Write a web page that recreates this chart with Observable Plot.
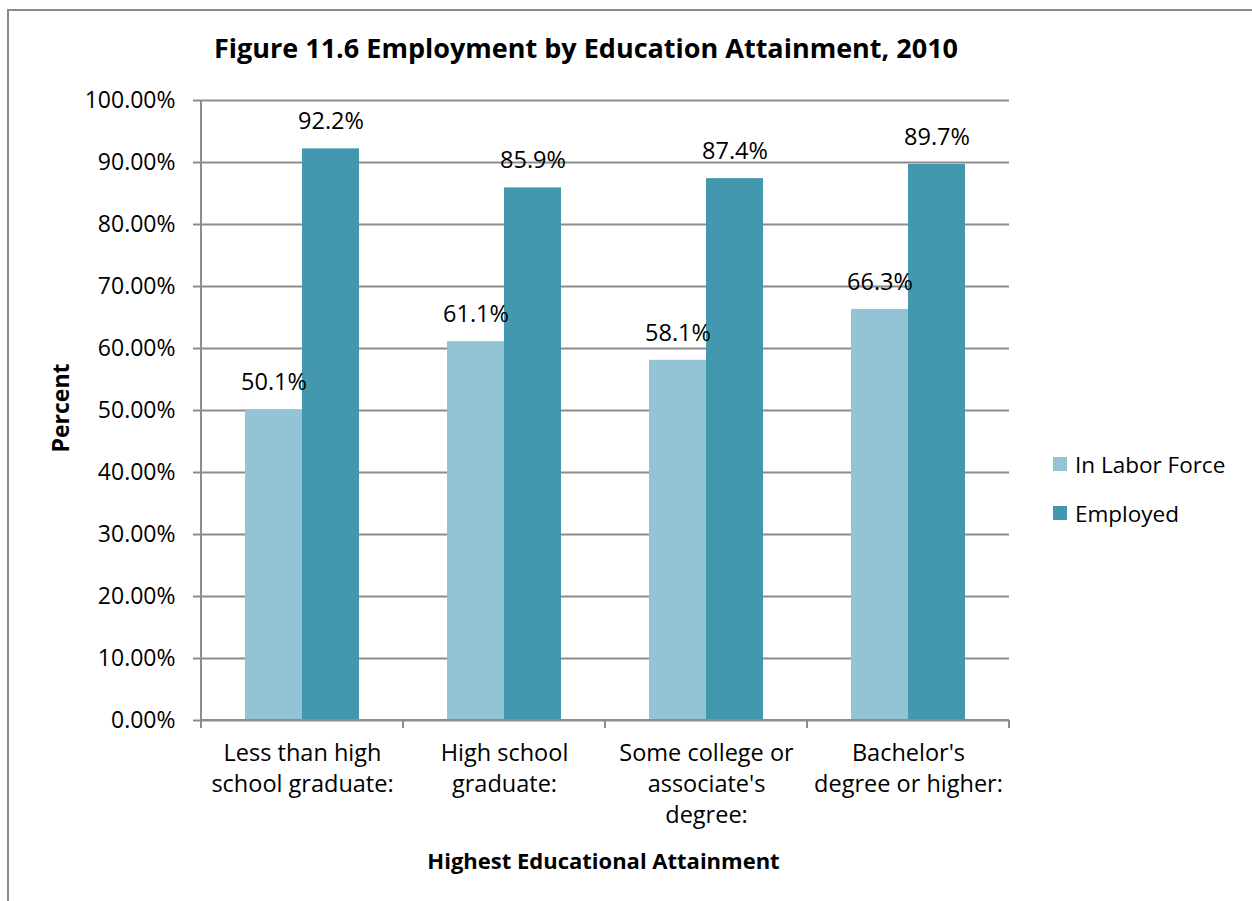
<!DOCTYPE html>
<html>
<head>
<meta charset="utf-8">
<script src="https://cdn.jsdelivr.net/npm/d3@7"></script>
<script src="https://cdn.jsdelivr.net/npm/@observablehq/plot@0.6"></script>
<style>
  html, body { margin: 0; padding: 0; background: #fff; overflow: hidden; }
  #wrap { position: relative; width: 1252px; height: 901px; overflow: hidden; font-family: "Open Sans", sans-serif; color: #000; }
  #border { position: absolute; left: 7px; top: 9px; right: -10px; bottom: -10px; border: 2px solid #8c8c8c; }
  #chart { position: absolute; left: 0; top: 0; }
  .title { position: absolute; left: 0; width: 1172px; top: 28px; text-align: center; font-weight: 700; font-size: 27px; line-height: 40px; }
  .xtitle { position: absolute; left: 0; width: 1207px; top: 844px; text-align: center; font-weight: 700; font-size: 22px; line-height: 32px; }
  .ytitle { position: absolute; left: 60px; top: 408px; transform: translate(-50%, -50%) rotate(-90deg); font-weight: 700; font-size: 23px; white-space: nowrap; }
  .legend { position: absolute; left: 1053px; top: 449px; font-size: 22.5px; }
  .legend .item { display: flex; align-items: center; height: 30px; margin-bottom: 19px; }
  .legend .sw { width: 14px; height: 14px; margin-right: 8px; }
</style>
</head>
<body>
<div id="wrap">
  <div id="border"></div>
  <div id="chart"></div>
  <div class="title">Figure 11.6 Employment by Education Attainment, 2010</div>
  <div class="ytitle">Percent</div>
  <div class="xtitle">Highest Educational Attainment</div>
  <div class="legend" id="legend"></div>
</div>
<script>
// ---- data ----
const categories = [
  "Less than high school graduate:",
  "High school graduate:",
  "Some college or associate's degree:",
  "Bachelor's degree or higher:"
];
const categoryLabels = [
  "Less than high\nschool graduate:",
  "High school\ngraduate:",
  "Some college or\nassociate's\ndegree:",
  "Bachelor's\ndegree or higher:"
];
const series = ["In Labor Force", "Employed"];
const inLaborForce = [50.1, 61.1, 58.1, 66.3];
const employed = [92.2, 85.9, 87.4, 89.7];
const yTicks = [0, 10, 20, 30, 40, 50, 60, 70, 80, 90, 100];
const colors = ["#93C3D4", "#4398AF"];

const rows = [];
categories.forEach((c, i) => {
  rows.push({category: c, series: series[0], value: inLaborForce[i]});
  rows.push({category: c, series: series[1], value: employed[i]});
});

const gridColor = "#8c8c8c";

const plot = Plot.plot({
  width: 1252,
  height: 901,
  marginLeft: 199,
  marginRight: 242,
  marginTop: 100,
  marginBottom: 181,
  style: {fontFamily: "Open Sans, sans-serif", fontSize: "22px", color: "#000", background: "transparent", overflow: "visible"},
  fx: {domain: categories, padding: 0, label: null},
  x: {domain: series, paddingInner: 0, paddingOuter: 0.75, axis: null},
  y: {domain: [0, 100], label: null},
  color: {domain: series, range: colors},
  marks: [
    Plot.ruleY(yTicks, {stroke: gridColor, strokeWidth: 2}),
    Plot.barY(rows, {fx: "category", x: "series", y: "value", fill: "series"}),
    Plot.text(rows, {fx: "category", x: "series", y: "value", text: d => d.value.toFixed(1) + "%", dy: -27, fontSize: 23.5, fill: "#000"}),
    Plot.axisY({ticks: yTicks, tickFormat: d => d.toFixed(2) + "%", tickSize: 8, tickPadding: 18, stroke: gridColor, fill: "#000", strokeWidth: 2, fontSize: 23, label: null}),
    Plot.axisFx({anchor: "bottom", tickSize: 0, tickPadding: 18, fontSize: 23.5, lineHeight: 1.33, tickFormat: d => categoryLabels[categories.indexOf(d)], label: null, fill: "#000"})
  ]
});
document.getElementById("chart").appendChild(plot);

// axis line and category boundary ticks, positioned through Plot's own scales
const fx = plot.scale("fx");
const ys = plot.scale("y");
const svg = d3.select(plot);
const y0 = ys.apply(0), y100 = ys.apply(100);
const left = fx.apply(categories[0]);
const edges = categories.map(c => fx.apply(c)).concat([fx.apply(categories[categories.length - 1]) + fx.bandwidth]);
const g = svg.append("g").attr("stroke", gridColor).attr("stroke-width", 2);
g.append("line").attr("x1", left).attr("x2", left).attr("y1", y100).attr("y2", y0);
g.append("line").attr("x1", left).attr("x2", edges[edges.length - 1]).attr("y1", y0).attr("y2", y0);
edges.forEach(x => g.append("line").attr("x1", x).attr("x2", x).attr("y1", y0).attr("y2", y0 + 8));

// legend
const legend = document.getElementById("legend");
series.forEach((s, i) => {
  const item = document.createElement("div");
  item.className = "item";
  const sw = document.createElement("div");
  sw.className = "sw";
  sw.style.background = colors[i];
  const t = document.createElement("span");
  t.textContent = s;
  item.appendChild(sw);
  item.appendChild(t);
  legend.appendChild(item);
});
</script>
</body>
</html>
